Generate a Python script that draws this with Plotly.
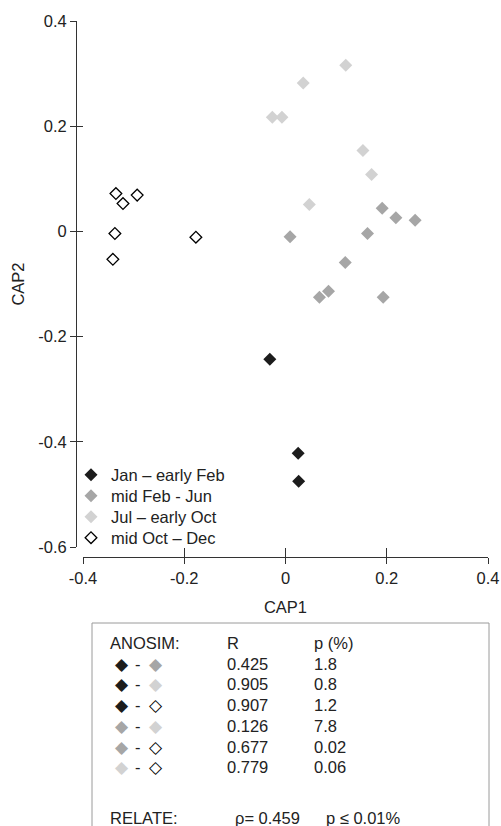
import plotly.graph_objects as go

W, H = 501, 826

# ---- data ----
group_names = ["Jan – early Feb", "mid Feb - Jun", "Jul – early Oct", "mid Oct – Dec"]
group_colors = ["#1c1c1c", "#a6a6a6", "#d2d2d2", "#ffffff"]
group_symbols = ["diamond", "diamond", "diamond", "diamond-open"]

jan_x = [-0.031, 0.025, 0.026]
jan_y = [-0.243, -0.422, -0.475]

feb_x = [0.191, 0.218, 0.256, 0.009, 0.162, 0.118, 0.085, 0.067, 0.193]
feb_y = [0.044, 0.026, 0.021, -0.010, -0.004, -0.059, -0.114, -0.125, -0.125]

jul_x = [0.119, 0.035, -0.026, -0.007, 0.153, 0.170, 0.047]
jul_y = [0.316, 0.282, 0.217, 0.217, 0.154, 0.108, 0.051]

oct_x = [-0.335, -0.321, -0.293, -0.337, -0.341, -0.177]
oct_y = [0.072, 0.053, 0.069, -0.004, -0.053, -0.011]

xs = [jan_x, feb_x, jul_x, oct_x]
ys = [jan_y, feb_y, jul_y, oct_y]

x_ticks = [-0.4, -0.2, 0, 0.2, 0.4]
x_ticklabels = ["-0.4", "-0.2", "0", "0.2", "0.4"]
y_ticks = [-0.6, -0.4, -0.2, 0, 0.2, 0.4]
y_ticklabels = ["-0.6", "-0.4", "-0.2", "0", "0.2", "0.4"]

anosim_pairs = [(0, 1), (0, 2), (0, 3), (1, 2), (1, 3), (2, 3)]
anosim_R = ["0.425", "0.905", "0.907", "0.126", "0.677", "0.779"]
anosim_p = ["1.8", "0.8", "1.2", "7.8", "0.02", "0.06"]
relate_rho = "0.459"
relate_p = "0.01%"

# ---- figure ----
FONT = "Liberation Sans, Arial, Helvetica, sans-serif"
TXT = "#222222"
FS = 16.5

px = lambda v: v / W
py = lambda v: 1 - v / H

legend_rows = [475, 496, 517, 538]
legend_keys = ["legend", "legend2", "legend3", "legend4"]

fig = go.Figure()
for name, col, sym, x, y, lk in zip(group_names, group_colors, group_symbols, xs, ys, legend_keys):
    if sym == "diamond-open":
        marker = dict(symbol=sym, size=9, color="#000000", line=dict(color="#000000", width=1.3))
    else:
        marker = dict(symbol=sym, size=10, color=col, line=dict(width=0))
    fig.add_trace(go.Scatter(x=x, y=y, mode="markers", name=name, marker=marker,
                             xaxis="x", yaxis="y", legend=lk))

# invisible trace on helper axes (for crossing tick marks)
fig.add_trace(go.Scatter(x=[], y=[], xaxis="x2", yaxis="y2", showlegend=False, hoverinfo="skip"))

xdom = [px(83), px(488)]
ydom = [py(547), py(21)]
xpos = py(557)
ypos = px(76)

common_tick = dict(tickfont=dict(family=FONT, size=FS, color=TXT), ticklen=6, tickwidth=1,
                   tickcolor="#333333", showgrid=False, zeroline=False, automargin=False)

leg_common = dict(xanchor="left", yanchor="middle", bgcolor="rgba(0,0,0,0)",
                  font=dict(family=FONT, size=FS, color=TXT), itemsizing="trace")

fig.update_layout(
    width=W, height=H,
    margin=dict(l=0, r=0, t=0, b=0),
    paper_bgcolor="white", plot_bgcolor="rgba(0,0,0,0)",
    xaxis=dict(domain=xdom, range=[-0.4, 0.4], anchor="free", position=xpos,
               tickvals=x_ticks, ticktext=x_ticklabels, ticks="outside",
               showline=True, linecolor="#333333", linewidth=1,
               title=dict(text="CAP1", font=dict(family=FONT, size=FS, color=TXT), standoff=15),
               **common_tick),
    yaxis=dict(domain=ydom, range=[-0.6, 0.4], anchor="free", position=ypos,
               tickvals=y_ticks, ticktext=y_ticklabels, ticks="outside",
               showline=True, linecolor="#333333", linewidth=1,
               title=dict(text="CAP2", font=dict(family=FONT, size=FS, color=TXT), standoff=8),
               **common_tick),
    xaxis2=dict(domain=xdom, range=[-0.4, 0.4], anchor="free", position=xpos, overlaying="x",
                tickvals=x_ticks, ticks="inside", showticklabels=False, showline=False,
                ticklen=9, tickwidth=1, tickcolor="#333333", showgrid=False, zeroline=False),
    yaxis2=dict(domain=ydom, range=[-0.6, 0.4], anchor="free", position=ypos, overlaying="y",
                tickvals=y_ticks, ticks="inside", showticklabels=False, showline=False,
                ticklen=6, tickwidth=1, tickcolor="#333333", showgrid=False, zeroline=False),
    showlegend=True,
)
for lk, ry in zip(legend_keys, legend_rows):
    fig.update_layout({lk: dict(x=px(71), y=py(ry), **leg_common)})

# ANOSIM box
fig.add_shape(type="rect", xref="paper", yref="paper",
              x0=px(92), x1=px(489), y0=py(H + 10), y1=py(623),
              line=dict(color="#9a9a9a", width=1), fillcolor="rgba(0,0,0,0)")

def txt(x, y, s, size=FS, color=TXT, anchor="left", family=FONT):
    fig.add_annotation(x=px(x), y=py(y), xref="paper", yref="paper", text=s,
                       showarrow=False, xanchor=anchor, yanchor="middle",
                       font=dict(family=family, size=size, color=color))

row0 = 643
dy = 20.7
txt(108, row0, "ANOSIM:")
txt(225, row0, "R")
txt(312, row0, "p (%)")

SYMF = "DejaVu Sans"
def sym(x, y, g):
    if group_symbols[g] == "diamond-open":
        txt(x, y, "◇", size=17, color="#000000", anchor="center", family=SYMF)
    else:
        txt(x, y, "◆", size=17, color=group_colors[g], anchor="center", family=SYMF)

for i, ((a, b), r, p) in enumerate(zip(anosim_pairs, anosim_R, anosim_p)):
    yy = row0 + dy * (i + 1)
    sym(122, yy, a)
    txt(138, yy, "-", anchor="center")
    sym(156, yy, b)
    txt(225, yy, r)
    txt(312, yy, p)

txt(108, 818, "RELATE:")
txt(233, 818, "ρ= " + relate_rho)
txt(324, 818, "p ≤ " + relate_p)

fig.write_html("out.html", config={"displayModeBar": False},
               post_script="document.body.style.margin='0';document.body.style.padding='0';")
